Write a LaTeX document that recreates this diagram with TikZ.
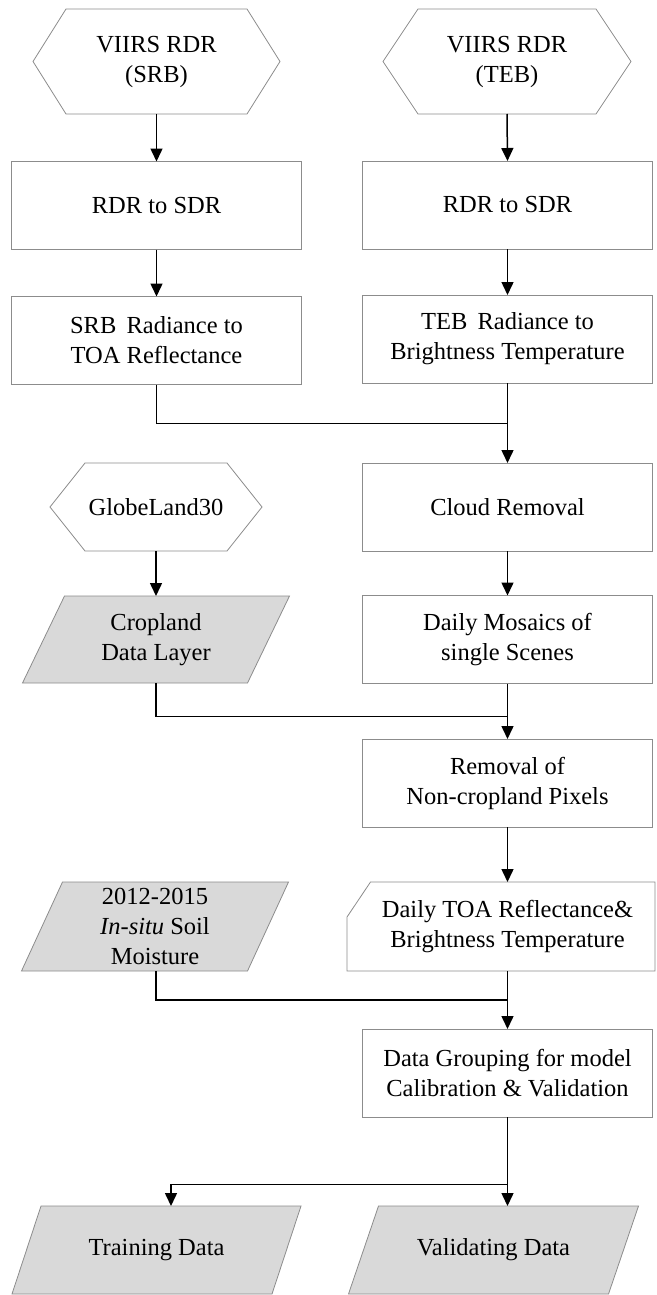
\documentclass[tikz,border=0pt]{standalone}
\usepackage{fontspec}
\setmainfont{Liberation Serif}
\usetikzlibrary{arrows.meta,calc,backgrounds}
\definecolor{bord}{HTML}{8C8C8C}
\definecolor{pfill}{HTML}{D9D9D9}
\begin{document}
\begin{tikzpicture}[x=1pt,y=-1pt,
  txt/.style={inner sep=0pt,outer sep=0pt,align=center,font=\fontsize{24.5}{30}\selectfont,text=black},
  boxnode/.style={txt,draw=bord,line width=0.8pt,minimum width=290pt,minimum height=88pt},
  shapeline/.style={draw=bord,line width=0.8pt,fill=white},
  pshape/.style={draw=bord,line width=0.8pt,fill=pfill},
  conn/.style={line width=1.5pt,black},
  arr/.style={conn,-{Triangle[length=13pt,width=12pt]}}
]
\useasboundingbox (0,0) rectangle (656,1295);

% --- nodes ---
\node[txt,minimum width=247pt,minimum height=105pt] (srb) at (156.5,61.5) {VIIRS RDR\\(SRB)};
\node[txt,minimum width=248pt,minimum height=105pt] (teb) at (507,61.5) {VIIRS RDR\\(TEB)};
\node[boxnode] (rdr1) at (156.5,205.5) {RDR to SDR};
\node[boxnode] (rdr2) at (507.5,205) {RDR to SDR};
\node[boxnode] (rad1) at (156.5,340.5) {SRB\, Radiance to\\TOA Reflectance};
\node[boxnode] (rad2) at (507.5,339) {TEB\, Radiance to\\Brightness Temperature};
\node[txt,minimum width=212pt,minimum height=88pt] (globe) at (156,507) {GlobeLand30};
\node[boxnode] (cloud) at (507.5,507) {Cloud Removal};
\node[txt,minimum width=225pt,minimum height=87pt] (crop) at (156,639.5) {Cropland\\Data Layer};
\node[boxnode] (mosaic) at (507.5,639.5) {Daily Mosaics of\\single Scenes};
\node[boxnode] (removal) at (507.5,783) {Removal of\\Non-cropland Pixels};
\node[txt,minimum width=226pt,minimum height=89pt] (soil) at (155,926.5) {2012-2015\\\textit{In-situ} Soil\\Moisture};
\node[txt,minimum width=290pt,minimum height=89pt] (dtoa) at (507.5,926.5) {Daily TOA Reflectance\&\\Brightness Temperature};
\node[boxnode] (dg) at (507.5,1073) {Data Grouping for model\\Calibration \& Validation};
\node[txt,minimum width=260pt,minimum height=88pt] (train) at (156.5,1250) {Training Data};
\node[txt,minimum width=260pt,minimum height=88pt] (val) at (493.5,1250) {Validating Data};

\coordinate (j1) at (507.5,423.5);
\coordinate (j2) at (507.5,716.5);
\coordinate (j3) at (507.5,1000);
\coordinate (j4) at (507.5,1184.5);
\coordinate (trainin) at (171,1206);

% --- outlines behind text ---
\begin{pgfonlayer}{background}
\draw[shapeline] (srb.west) -- ([xshift=33pt]srb.north west) -- ([xshift=-33pt]srb.north east) -- (srb.east) -- ([xshift=-33pt]srb.south east) -- ([xshift=33pt]srb.south west) -- cycle;
\draw[shapeline] (teb.west) -- ([xshift=35pt]teb.north west) -- ([xshift=-35pt]teb.north east) -- (teb.east) -- ([xshift=-35pt]teb.south east) -- ([xshift=35pt]teb.south west) -- cycle;
\draw[shapeline] (globe.west) -- ([xshift=35pt]globe.north west) -- ([xshift=-35pt]globe.north east) -- (globe.east) -- ([xshift=-35pt]globe.south east) -- ([xshift=35pt]globe.south west) -- cycle;
\draw[pshape] ([xshift=21pt]crop.north west) -- ([xshift=21pt]crop.north east) -- ([xshift=-21pt]crop.south east) -- ([xshift=-21pt]crop.south west) -- cycle;
\draw[pshape] ([xshift=20.5pt]soil.north west) -- ([xshift=20.5pt]soil.north east) -- ([xshift=-20.5pt]soil.south east) -- ([xshift=-20.5pt]soil.south west) -- cycle;
\draw[pshape] ([xshift=14.5pt]train.north west) -- ([xshift=14.5pt]train.north east) -- ([xshift=-14.5pt]train.south east) -- ([xshift=-14.5pt]train.south west) -- cycle;
\draw[pshape] ([xshift=15pt]val.north west) -- ([xshift=15pt]val.north east) -- ([xshift=-15pt]val.south east) -- ([xshift=-15pt]val.south west) -- cycle;
\draw[shapeline] ([xshift=8pt]dtoa.north west) -- ([xshift=2.5pt]dtoa.north east) -- ([xshift=2.5pt]dtoa.south east) -- ([xshift=-15.5pt]dtoa.south west) -- ([xshift=-15.5pt,yshift=-35pt]dtoa.north west) -- cycle;
\end{pgfonlayer}

% --- connectors ---
\draw[arr] (srb.south) -- (rdr1.north);
\draw[arr] (teb.south) -- (rdr2.north);
\draw[arr] (rdr1.south) -- (rad1.north);
\draw[arr] (rdr2.south) -- (rad2.north);
\draw[conn] (rad1.south) |- (j1);
\draw[arr] (rad2.south) -- (cloud.north);
\draw[arr] (globe.south) -- (crop.north);
\draw[arr] (cloud.south) -- (mosaic.north);
\draw[conn] (crop.south) |- (j2);
\draw[arr] (mosaic.south) -- (removal.north);
\draw[arr] (removal.south) -- (dtoa.north);
\draw[conn] (soil.south -| crop.south) |- (j3);
\draw[arr] (dtoa.south) -- (dg.north);
\draw[conn] (dg.south) -- (j4);
\draw[arr] (j4) -| (trainin);
\draw[arr] (dg.south) -- (j4) -- (val.north -| j4);
\end{tikzpicture}
\end{document}
